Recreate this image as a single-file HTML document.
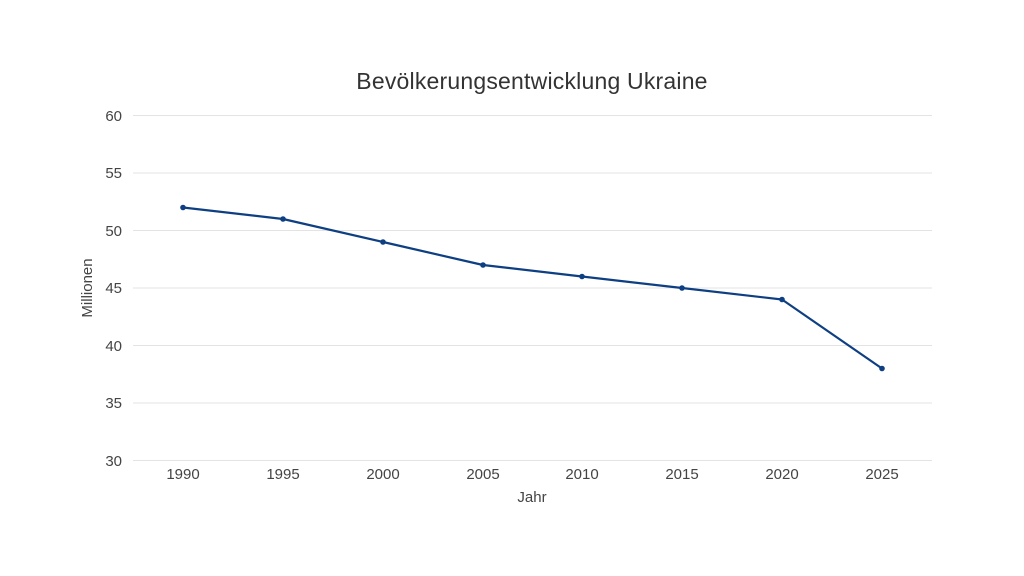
<!DOCTYPE html>
<html><head><meta charset="utf-8"><style>
html,body{margin:0;padding:0;background:#fff;}
svg{display:block;font-family:"Liberation Sans",sans-serif;}
</style></head><body>
<svg width="1024" height="576" viewBox="0 0 1024 576">
<rect width="1024" height="576" fill="#fff"/>
<text x="532" y="89" text-anchor="middle" font-size="23" letter-spacing="0.2" fill="#333">Bevölkerungsentwicklung Ukraine</text>
<g stroke="#e3e3e3" stroke-width="1">
<line x1="133" x2="932" y1="115.5" y2="115.5"/>
<line x1="133" x2="932" y1="173" y2="173"/>
<line x1="133" x2="932" y1="230.5" y2="230.5"/>
<line x1="133" x2="932" y1="288" y2="288"/>
<line x1="133" x2="932" y1="345.5" y2="345.5"/>
<line x1="133" x2="932" y1="403" y2="403"/>
<line x1="133" x2="932" y1="460.5" y2="460.5"/>
</g>
<g font-size="15" fill="#444" text-anchor="end">
<text x="122" y="121">60</text>
<text x="122" y="178">55</text>
<text x="122" y="236">50</text>
<text x="122" y="293">45</text>
<text x="122" y="351">40</text>
<text x="122" y="408">35</text>
<text x="122" y="466">30</text>
</g>
<g font-size="15" fill="#444" text-anchor="middle">
<text x="183" y="479">1990</text>
<text x="283" y="479">1995</text>
<text x="383" y="479">2000</text>
<text x="483" y="479">2005</text>
<text x="582" y="479">2010</text>
<text x="682" y="479">2015</text>
<text x="782" y="479">2020</text>
<text x="882" y="479">2025</text>
<text x="532" y="502">Jahr</text>
</g>
<text transform="translate(92,288) rotate(-90)" font-size="15" fill="#444" text-anchor="middle">Millionen</text>
<polyline fill="none" stroke="#0e3f82" stroke-width="2.2" stroke-linejoin="round" points="183,207.5 283,219 383,242 483,265 582,276.5 682,288 782,299.5 882,368.5"/>
<g fill="#0e3f82">
<circle cx="183" cy="207.5" r="2.8"/><circle cx="283" cy="219" r="2.8"/><circle cx="383" cy="242" r="2.8"/><circle cx="483" cy="265" r="2.8"/><circle cx="582" cy="276.5" r="2.8"/><circle cx="682" cy="288" r="2.8"/><circle cx="782" cy="299.5" r="2.8"/><circle cx="882" cy="368.5" r="2.8"/>
</g>
</svg>
</body></html>
